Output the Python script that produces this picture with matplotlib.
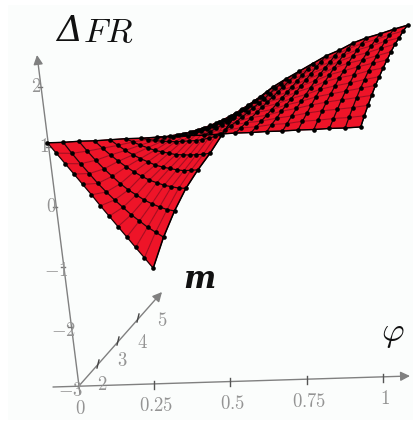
from matplotlib import pyplot as plt
import numpy as np

plt.rcParams['mathtext.fontset'] = 'cm'

phi_ticks = [0, 0.25, 0.5, 0.75, 1]
phi_labels = ['0', '0.25', '0.5', '0.75', '1']
m_ticks = [3, 4, 5]
m_labels = ['2', '3', '4', '5']
z_ticks = [-2, -1, 0, 1, 2]
z_labels = ['-3', '-2', '-1', '0', '1', '2']

# surface rows run from m=2 to m=5, columns along phi
m_rows = np.linspace(2, 5, 13)
phi_start = np.linspace(0, 0.07, 13)
phi_end = np.linspace(1.03, 1.0, 13)
dfr = np.array([
    [1.07, 1.07, 1.08, 1.08, 1.09, 1.10, 1.10, 1.11, 1.11, 1.12, 1.12, 1.13, 1.14, 1.14, 1.15, 1.15, 1.16, 1.16, 1.17, 1.17, 1.18],
    [0.80, 0.79, 0.82, 0.86, 0.90, 0.95, 0.98, 1.02, 1.04, 1.06, 1.08, 1.10, 1.13, 1.14, 1.17, 1.18, 1.21, 1.22, 1.24, 1.25, 1.27],
    [0.53, 0.52, 0.57, 0.65, 0.72, 0.80, 0.87, 0.94, 0.97, 1.01, 1.04, 1.08, 1.12, 1.14, 1.18, 1.21, 1.25, 1.28, 1.30, 1.32, 1.35],
    [0.26, 0.26, 0.33, 0.45, 0.55, 0.66, 0.76, 0.86, 0.90, 0.95, 1.00, 1.05, 1.11, 1.14, 1.20, 1.24, 1.29, 1.33, 1.36, 1.39, 1.42],
    [-0.01, 0.00, 0.11, 0.26, 0.39, 0.52, 0.66, 0.78, 0.84, 0.90, 0.96, 1.03, 1.10, 1.14, 1.21, 1.26, 1.33, 1.37, 1.41, 1.45, 1.49],
    [-0.28, -0.24, -0.11, 0.08, 0.24, 0.40, 0.56, 0.71, 0.78, 0.86, 0.93, 1.01, 1.09, 1.14, 1.22, 1.28, 1.36, 1.41, 1.45, 1.50, 1.54],
    [-0.56, -0.47, -0.31, -0.09, 0.09, 0.28, 0.47, 0.64, 0.72, 0.81, 0.90, 0.99, 1.08, 1.14, 1.23, 1.30, 1.39, 1.45, 1.49, 1.55, 1.59],
    [-0.83, -0.69, -0.49, -0.25, -0.04, 0.16, 0.38, 0.57, 0.67, 0.77, 0.87, 0.97, 1.07, 1.14, 1.24, 1.32, 1.41, 1.47, 1.53, 1.58, 1.63],
    [-1.10, -0.91, -0.67, -0.39, -0.16, 0.06, 0.29, 0.51, 0.62, 0.73, 0.85, 0.95, 1.06, 1.14, 1.25, 1.33, 1.43, 1.50, 1.55, 1.61, 1.67],
    [-1.37, -1.11, -0.83, -0.53, -0.28, -0.04, 0.21, 0.45, 0.57, 0.70, 0.82, 0.94, 1.05, 1.14, 1.25, 1.34, 1.44, 1.52, 1.57, 1.64, 1.70],
    [-1.64, -1.31, -0.98, -0.65, -0.39, -0.13, 0.14, 0.39, 0.53, 0.67, 0.80, 0.93, 1.04, 1.14, 1.26, 1.34, 1.45, 1.53, 1.59, 1.66, 1.71],
    [-1.91, -1.49, -1.12, -0.77, -0.48, -0.22, 0.07, 0.34, 0.49, 0.64, 0.79, 0.91, 1.03, 1.14, 1.26, 1.35, 1.46, 1.54, 1.60, 1.67, 1.73],
    [-2.18, -1.67, -1.24, -0.87, -0.57, -0.30, 0.00, 0.29, 0.45, 0.61, 0.77, 0.90, 1.02, 1.14, 1.26, 1.35, 1.46, 1.54, 1.60, 1.67, 1.73],
])


# fixed axonometric view, result in image pixels
def project(phi, m, z):
    x = 78 + 305 * phi + 20 * (m - 2) - 7.5 * (z + 3)
    y = 387 - 9 * phi - 23 * (m - 2) - 60 * (z + 3)
    return x, y


fig = plt.figure(figsize=(4.14, 4.23), dpi=100)
ax = fig.add_axes([0, 0, 1, 1])
ax.set_xlim(0, 414)
ax.set_ylim(423, 0)
ax.axis('off')
ax.add_patch(plt.Rectangle((8, 5), 406, 415, color='#fbfdfc', lw=0, zorder=0))

gray = '#808080'
label_gray = '#949494'


def axis_line(p0, p1):
    ax.annotate('', xy=p1, xytext=p0, zorder=1,
                arrowprops=dict(arrowstyle='-|>', color=gray, lw=1, mutation_scale=14, shrinkA=0, shrinkB=0))


axis_line((53, 387), (410, 376))
axis_line((78, 387), (162, 292))
axis_line((80, 394), (37, 55))

for p in phi_ticks[1:]:
    x, y = project(p, 2, -3)
    ax.plot([x, x], [y - 4, y + 4], color='#555555', lw=1, zorder=2)
for m in m_ticks:
    x, y = project(0, m, -3)
    ax.plot([x - 1, x + 1], [y + 4, y - 4], color='#444444', lw=1, zorder=2)
for z in z_ticks:
    x, y = project(0, 2, z)
    ax.plot([x - 2, x + 2], [y, y], color='#777777', lw=1, zorder=2)

for p, s in zip(phi_ticks, phi_labels):
    x, y = project(p, 2, -3)
    ax.text(x + 2, y + 21, f'${s}$', ha='center', va='center', fontsize=13.5, color=label_gray)
for i, s in enumerate(m_labels):
    x, y = project(0, i + 2, -3)
    ax.text(x + 24, y + [-3, -3, 1, 2][i], f'${s}$', ha='center', va='center', fontsize=13.5, color=label_gray)
for z, s in zip([-3] + z_ticks, z_labels):
    x, y = project(0, 2, z)
    if z < 0:
        ax.text(x - 7, y + 4, f'${s}$', ha='center', va='center', fontsize=13.5, color=label_gray)
    else:
        ax.text(x - 4, y - 1, f'${s}$', ha='center', va='center', fontsize=13.5, color=label_gray)

# surface, far rows first
phi_grid = np.array([np.linspace(a, b, 21) for a, b in zip(phi_start, phi_end)])
m_grid = np.repeat(m_rows[:, None], 21, axis=1)
X, Y = project(phi_grid, m_grid, dfr)
for j in range(11, -1, -1):
    for i in range(20):
        ax.fill([X[j, i], X[j, i + 1], X[j + 1, i + 1], X[j + 1, i]],
                [Y[j, i], Y[j, i + 1], Y[j + 1, i + 1], Y[j + 1, i]],
                color='#ee1428', lw=0.3, zorder=3)

for j in range(13):
    ax.plot(X[j], Y[j], color='#a50d20', lw=0.8, zorder=4)
for i in range(21):
    ax.plot(X[:, i], Y[:, i], color='#1a0508', lw=0.9, zorder=4)
ax.plot(X[0], Y[0], color='black', lw=1, zorder=5)
ax.plot(X[-1], Y[-1], color='black', lw=1.1, zorder=5)
ax.plot(X[:, -1], Y[:, -1], color='black', lw=0.9, zorder=5)
ax.scatter(X.ravel(), Y.ravel(), s=11, color='black', lw=0, zorder=6)

ax.text(56, 31, '\u0394', ha='left', va='center', fontsize=26, family='DejaVu Serif',
        style='italic', color='#111111')
ax.text(83, 32, '$FR$', ha='left', va='center', fontsize=25, color='#111111')
ax.text(199, 279, 'm', ha='center', va='center', fontsize=22, family='DejaVu Serif',
        style='italic', weight='bold', color='#111111')
ax.text(393, 333, r'$\varphi$', ha='center', va='center', fontsize=25, color='#111111')

fig.savefig('out.png', dpi=100)
